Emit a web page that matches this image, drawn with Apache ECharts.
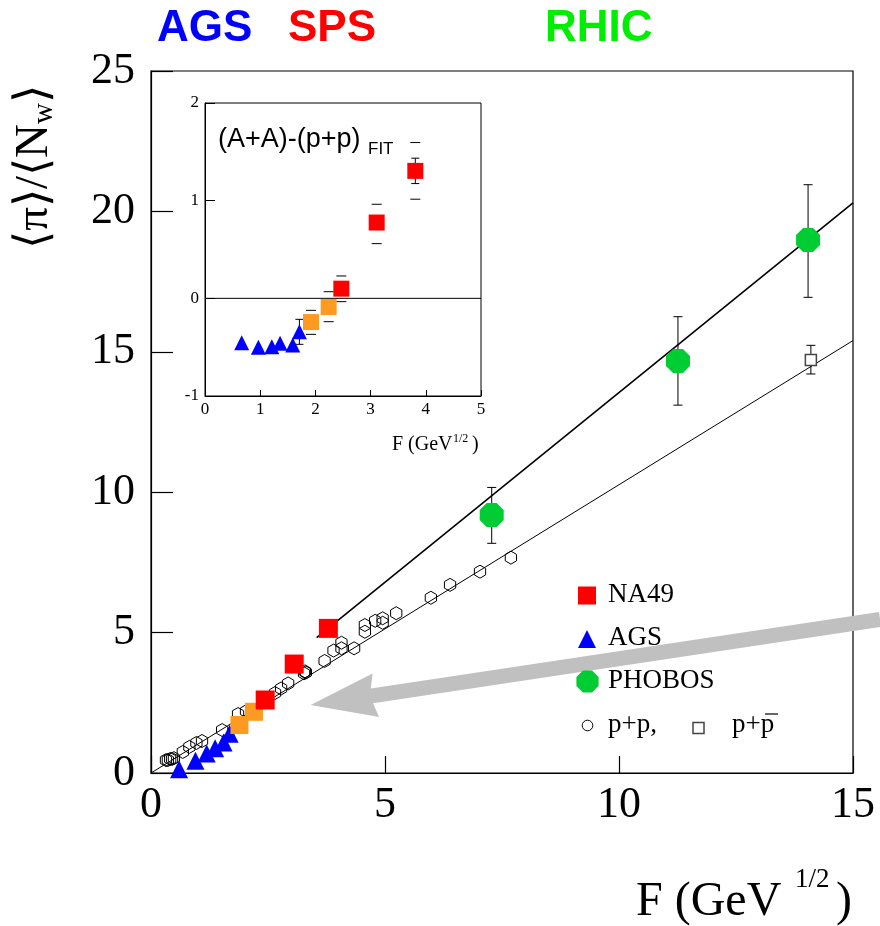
<!DOCTYPE html>
<html>
<head>
<meta charset="utf-8">
<script src="https://cdn.jsdelivr.net/npm/echarts@6/dist/echarts.min.js"></script>
<style>
  html, body { margin: 0; padding: 0; background: #fff; }
  #chart { width: 880px; height: 926px; }
</style>
</head>
<body>
<div id="chart"></div>
<script>
// ---------- main panel: <pi>/<N_w> versus F (GeV^1/2) ----------
const mainX = [0, 15, 5];      // min, max, step
const mainY = [0, 25, 5];

const na49 = [[2.44, 2.60], [3.06, 3.88], [3.79, 5.15]];
const na49Low = [[1.89, 1.71], [2.20, 2.18]];
const ags = [[0.60, 0.13], [0.95, 0.44], [1.19, 0.69], [1.37, 0.88], [1.55, 1.09], [1.68, 1.40]];
const phobos = [[7.28, 9.19], [11.26, 14.67], [14.04, 18.98]];
const phobosErr = [[7.28, 8.18, 10.17], [11.26, 13.10, 16.25], [14.04, 16.94, 20.95]];
const ppbar = [[14.10, 14.71]];
const ppbarErr = [[14.10, 14.21, 15.23]];
const pp = [
  [0.32, 0.46], [0.36, 0.46], [0.41, 0.50], [0.45, 0.50], [0.49, 0.53],
  [0.68, 0.75], [0.82, 0.93], [0.97, 1.07], [1.09, 1.14], [1.52, 1.53],
  [1.86, 2.10], [2.03, 2.20], [2.65, 2.85], [2.78, 3.01], [2.93, 3.19],
  [3.27, 3.55], [3.29, 3.62], [3.31, 3.58], [3.71, 3.99], [3.90, 4.36],
  [4.07, 4.64], [4.07, 4.44], [4.34, 4.44], [4.57, 5.27], [4.57, 5.03],
  [4.79, 5.42], [4.95, 5.51], [4.95, 5.35], [5.24, 5.69], [5.98, 6.24],
  [6.39, 6.70], [7.03, 7.17], [7.69, 7.67]
];
const ppFit = [[0, 0], [15, 15.4]];
const aaFit = [[3.54, 4.82], [15, 20.3]];
const arrowPath = [[15.58, 5.47], [3.41, 2.42]];   // tail, tip

// ---------- inset: (A+A) - (p+p) fit ----------
const insetX = [0, 5, 1];
const insetY = [-1, 2, 1];
const insAgs = [[0.665, -0.454], [0.967, -0.50], [1.21, -0.495], [1.36, -0.46], [1.59, -0.478], [1.71, -0.342]];
const insLow = [[1.92, -0.243], [2.24, -0.089]];
const insNa49 = [[2.47, 0.099], [3.11, 0.776], [3.81, 1.305]];
const insStat = [[1.71, -0.471, -0.215], [3.81, 1.175, 1.435]];
const insSys = [[1.92, -0.369, -0.123], [2.24, -0.239, 0.068], [2.47, -0.034, 0.229], [3.11, 0.560, 0.963], [3.81, 1.015, 1.595]];
const insZero = [[0, 0], [5, 0]];

// ---------- colours ----------
const RED = '#ff0000', ORANGE = '#fd9a22', BLUE = '#0000ff', GREEN = '#00cc33';
const SERIF = '"Liberation Serif", "Times New Roman", serif';
const SANS = '"Liberation Sans", Arial, sans-serif';

const OCTAGON = 'path://M-0.4142,-1L0.4142,-1L1,-0.4142L1,0.4142L0.4142,1L-0.4142,1L-1,0.4142L-1,-0.4142Z';
const HEXAGON = 'path://M0,-1L0.866,-0.5L0.866,0.5L0,1L-0.866,0.5L-0.866,-0.5Z';

function errorBars(withStem, capWidth) {
  return function (params, api) {
    const x = api.value(0);
    const lo = api.coord([x, api.value(1)]);
    const hi = api.coord([x, api.value(2)]);
    const st = { stroke: '#000', lineWidth: 1 };
    const kids = [
      { type: 'line', shape: { x1: lo[0] - capWidth / 2, y1: lo[1], x2: lo[0] + capWidth / 2, y2: lo[1] }, style: st },
      { type: 'line', shape: { x1: hi[0] - capWidth / 2, y1: hi[1], x2: hi[0] + capWidth / 2, y2: hi[1] }, style: st }
    ];
    if (withStem) kids.push({ type: 'line', shape: { x1: lo[0], y1: lo[1], x2: hi[0], y2: hi[1] }, style: st });
    return { type: 'group', children: kids };
  };
}

function axisPair(range, grid, opts) {
  return Object.assign({
    gridIndex: grid, type: 'value', min: range[0], max: range[1], interval: range[2],
    splitLine: { show: false },
    axisLine: { show: true, onZero: false, lineStyle: { color: '#000', width: 1.2 } }
  }, opts);
}

function marks(name, data, grid, symbol, size, color, z, extra) {
  return Object.assign({
    name: name, type: 'scatter', xAxisIndex: grid, yAxisIndex: grid, data: data,
    symbol: symbol, symbolSize: size, itemStyle: { color: color, opacity: 1 }, z: z,
    emphasis: { disabled: true }
  }, extra || {});
}

const chart = echarts.init(document.getElementById('chart'), null, { renderer: 'canvas' });

const option = {
  animation: false,
  backgroundColor: '#fff',
  grid: [
    { left: 151, top: 71, width: 702, height: 702, show: true, borderColor: '#000', borderWidth: 1.2 },
    { left: 205, top: 103, width: 276, height: 293, show: true, borderColor: '#000', borderWidth: 1, backgroundColor: '#fff' }
  ],
  xAxis: [
    axisPair(mainX, 0, {
      axisTick: { show: true, inside: true, length: 17, lineStyle: { color: '#000', width: 1.2 } },
      axisLabel: { color: '#000', fontFamily: SERIF, fontSize: 44, margin: 10 }
    }),
    axisPair(insetX, 1, {
      axisTick: { show: true, inside: true, length: 6, lineStyle: { color: '#000', width: 1 } },
      axisLabel: { color: '#000', fontFamily: SERIF, fontSize: 17, margin: 5 },
      axisLine: { show: true, onZero: false, lineStyle: { color: '#000', width: 1 } }
    })
  ],
  yAxis: [
    axisPair(mainY, 0, {
      axisTick: { show: true, inside: true, length: 22, lineStyle: { color: '#000', width: 1.2 } },
      axisLabel: { color: '#000', fontFamily: SERIF, fontSize: 44, margin: 16 }
    }),
    axisPair(insetY, 1, {
      axisTick: { show: true, inside: true, length: 10, lineStyle: { color: '#000', width: 1 } },
      axisLabel: { color: '#000', fontFamily: SERIF, fontSize: 17, margin: 6 },
      axisLine: { show: true, onZero: false, lineStyle: { color: '#000', width: 1 } }
    })
  ],
  series: [
    // fits
    { type: 'line', xAxisIndex: 0, yAxisIndex: 0, data: ppFit, symbol: 'none', silent: true,
      lineStyle: { color: '#000', width: 1 }, z: 2 },
    { type: 'line', xAxisIndex: 0, yAxisIndex: 0, data: aaFit, symbol: 'none', silent: true,
      lineStyle: { color: '#000', width: 1.6 }, z: 2 },
    // p+p open points
    marks('p+p', pp, 0, HEXAGON, 13, 'rgba(0,0,0,0)', 3, {
      symbolKeepAspect: true,
      itemStyle: { color: 'rgba(0,0,0,0)', borderColor: '#000', borderWidth: 1, opacity: 1 }
    }),
    // error bars (main)
    { type: 'custom', xAxisIndex: 0, yAxisIndex: 0, data: phobosErr, renderItem: errorBars(true, 9),
      encode: { x: 0, y: [1, 2] }, z: 3 },
    { type: 'custom', xAxisIndex: 0, yAxisIndex: 0, data: ppbarErr, renderItem: errorBars(true, 9),
      encode: { x: 0, y: [1, 2] }, z: 3 },
    marks('p+pbar', ppbar, 0, 'rect', 11, '#fff', 4, {
      itemStyle: { color: '#fff', borderColor: '#444', borderWidth: 1.5, opacity: 1 }
    }),
    marks('AGS', ags, 0, 'triangle', 18, BLUE, 5),
    marks('NA49 low', na49Low, 0, 'rect', 18, ORANGE, 5),
    marks('NA49', na49, 0, 'rect', 19, RED, 5),
    marks('PHOBOS', phobos, 0, OCTAGON, 24, GREEN, 5),

    // inset
    { type: 'line', xAxisIndex: 1, yAxisIndex: 1, data: insZero, symbol: 'none', silent: true,
      lineStyle: { color: '#000', width: 1 }, z: 6 },
    { type: 'custom', xAxisIndex: 1, yAxisIndex: 1, data: insSys, renderItem: errorBars(false, 10),
      encode: { x: 0, y: [1, 2] }, z: 6 },
    { type: 'custom', xAxisIndex: 1, yAxisIndex: 1, data: insStat, renderItem: errorBars(true, 8),
      encode: { x: 0, y: [1, 2] }, z: 6 },
    marks('AGS inset', insAgs, 1, 'triangle', 15, BLUE, 7),
    marks('NA49 low inset', insLow, 1, 'rect', 16, ORANGE, 7),
    marks('NA49 inset', insNa49, 1, 'rect', 16, RED, 7)
  ]
};
chart.setOption(option);

// ---------- annotations ----------
function txt(x, y, text, font, fill, extra) {
  return Object.assign({
    type: 'text', x: x, y: y, z: 20,
    style: { text: text, font: font, fill: fill || '#000', align: 'left', verticalAlign: 'middle' }
  }, extra || {});
}

// arrow from the right edge down to the low-energy region
const tail = chart.convertToPixel({ gridIndex: 0 }, arrowPath[0]);
const tip = chart.convertToPixel({ gridIndex: 0 }, arrowPath[1]);
const dx = tip[0] - tail[0], dy = tip[1] - tail[1];
const len = Math.hypot(dx, dy);
const ux = dx / len, uy = dy / len, nx = -uy, ny = ux;
const headLen = 66, headHalf = 22, shaftHalf = 7.5;
const base = [tip[0] - ux * headLen, tip[1] - uy * headLen];
const neck = [tip[0] - ux * (headLen - 4), tip[1] - uy * (headLen - 4)];
const arrowPts = [
  [tail[0] + nx * shaftHalf, tail[1] + ny * shaftHalf],
  [neck[0] + nx * shaftHalf, neck[1] + ny * shaftHalf],
  [base[0] + nx * headHalf, base[1] + ny * headHalf],
  tip,
  [base[0] - nx * headHalf, base[1] - ny * headHalf],
  [neck[0] - nx * shaftHalf, neck[1] - ny * shaftHalf],
  [tail[0] - nx * shaftHalf, tail[1] - ny * shaftHalf]
];

const octPts = [];
for (let i = 0; i < 8; i++) {
  const a = Math.PI / 8 + i * Math.PI / 4;
  octPts.push([587.5 + 12 * Math.cos(a), 681.5 + 12 * Math.sin(a)]);
}

chart.setOption({
  graphic: [
    { type: 'polygon', z: 8, shape: { points: arrowPts }, style: { fill: '#c0c0c0' } },

    // accelerator labels
    txt(157, 29, 'AGS', 'bold 44px ' + SANS, BLUE),
    txt(288, 29, 'SPS', 'bold 44px ' + SANS, RED),
    txt(545, 29, 'RHIC', 'bold 44px ' + SANS, '#00ee00'),

    // y title (reads bottom to top)
    {
      type: 'text', x: 35, y: 167, rotation: Math.PI / 2, z: 20,
      style: {
        text: '\u27E8\u03C0\u27E9/\u27E8N{s|w}\u27E9',
        font: '47px ' + SERIF, fill: '#000', align: 'center', verticalAlign: 'middle',
        rich: { s: { fontFamily: SERIF, fontSize: 29, verticalAlign: 'bottom' } }
      }
    },

    // x title
    txt(636, 902, 'F (GeV', '48px ' + SERIF),
    txt(795, 880, '1/2', '27px ' + SERIF),
    txt(836, 902, ')', '48px ' + SERIF),

    // inset titles
    txt(218, 139.5, '(A+A)-(p+p)', '27px ' + SANS),
    txt(368, 149, 'FIT', '17px ' + SANS),
    txt(392, 445, 'F (GeV', '20px ' + SERIF),
    txt(453, 439, '1/2', '12px ' + SERIF),
    txt(472, 445, ')', '20px ' + SERIF),

    // legend
    { type: 'rect', z: 20, shape: { x: 578, y: 586.5, width: 18, height: 18 }, style: { fill: RED } },
    txt(608, 595, 'NA49', '27px ' + SERIF),
    { type: 'polygon', z: 20, shape: { points: [[587, 630], [596, 648], [578, 648]] }, style: { fill: BLUE } },
    txt(608, 638, 'AGS', '27px ' + SERIF),
    { type: 'polygon', z: 20, shape: { points: octPts }, style: { fill: GREEN } },
    txt(608, 681, 'PHOBOS', '27px ' + SERIF),
    { type: 'circle', z: 20, shape: { cx: 587.5, cy: 725.5, r: 5.3 }, style: { fill: '#fff', stroke: '#000', lineWidth: 1 } },
    txt(608, 725, 'p+p,', '27px ' + SERIF),
    { type: 'rect', z: 20, shape: { x: 693, y: 722.5, width: 11, height: 11 }, style: { fill: '#fff', stroke: '#444', lineWidth: 1.5 } },
    txt(732, 725, 'p+p', '27px ' + SERIF),
    { type: 'line', z: 20, shape: { x1: 765, y1: 714, x2: 778, y2: 714 }, style: { stroke: '#000', lineWidth: 1.2 } }
  ]
});
</script>
</body>
</html>
